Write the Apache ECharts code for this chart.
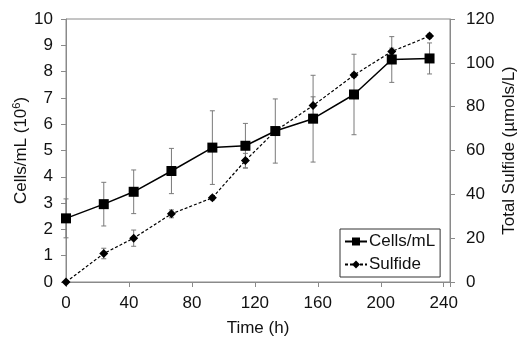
<!DOCTYPE html>
<html>
<head>
<meta charset="utf-8">
<script src="https://cdn.jsdelivr.net/npm/echarts@6/dist/echarts.min.js"></script>
<style>html,body{margin:0;padding:0;background:#fff;}#c{width:522px;height:339px;}</style>
</head>
<body>
<div id="c"></div>
<script>
const times = [0, 24, 43, 67, 93, 114, 133, 157, 183, 207, 231];
const cells = [2.42, 2.96, 3.43, 4.22, 5.11, 5.18, 5.74, 6.21, 7.13, 8.46, 8.5];
const cellsErr = [0.74, 0.83, 0.83, 0.86, 1.40, 0.85, 1.22, 1.65, 1.53, 0.87, 0.59];
const sulfide = [0, 13.0, 20.0, 31.1, 38.4, 55.4, 68.9, 80.5, 94.4, 105.2, 112.2];
const sulfideErr = [0, 2.4, 3.7, 1.8, 1.0, 3.3, 1.5, 4.0, 1.0, 1.5, 1.0];
const xTicks = [0, 40, 80, 120, 160, 200, 240];

const FONT = 'Liberation Sans, Arial, sans-serif';
const AXIS_COLOR = '#8a8a8a';

function errData(vals, errs) {
  return times.map((t, i) => [t, vals[i] - errs[i], vals[i] + errs[i]]);
}
function renderErr(params, api) {
  const x = api.value(0);
  const lo = api.coord([x, api.value(1)]);
  const hi = api.coord([x, api.value(2)]);
  const w = 2.5;
  const style = { stroke: '#7a7a7a', lineWidth: 1 };
  return {
    type: 'group',
    children: [
      { type: 'line', shape: { x1: lo[0], y1: lo[1], x2: hi[0], y2: hi[1] }, style },
      { type: 'line', shape: { x1: hi[0] - w, y1: hi[1], x2: hi[0] + w, y2: hi[1] }, style },
      { type: 'line', shape: { x1: lo[0] - w, y1: lo[1], x2: lo[0] + w, y2: lo[1] }, style }
    ]
  };
}

const chart = echarts.init(document.getElementById('c'), null, { renderer: 'canvas' });
const axisCommon = {
  axisLine: { show: true, lineStyle: { color: AXIS_COLOR, width: 1 } },
  axisTick: { show: true, length: 5, lineStyle: { color: AXIS_COLOR } },
  splitLine: { show: false },
  axisLabel: { color: '#111', fontSize: 17, fontFamily: FONT },
  nameTextStyle: { color: '#111', fontSize: 17, fontFamily: FONT }
};
chart.setOption({
  animation: false,
  backgroundColor: '#fff',
  textStyle: { fontFamily: FONT },
  grid: {
    left: 66, right: 72, top: 19, bottom: 57,
    containLabel: false, outerBoundsMode: 'none',
    show: true, borderColor: AXIS_COLOR, borderWidth: 1, backgroundColor: 'transparent'
  },
  xAxis: Object.assign({}, axisCommon, {
    type: 'value', min: 0, max: 244, interval: 40,
    name: 'Time (h)', nameLocation: 'middle', nameGap: 38,
    axisLabel: Object.assign({}, axisCommon.axisLabel, {
      margin: 13, showMaxLabel: true,
      formatter: v => (xTicks.indexOf(v) >= 0 ? String(v) : '')
    })
  }),
  yAxis: [
    Object.assign({}, axisCommon, {
      type: 'value', min: 0, max: 10, interval: 1, position: 'left',
      name: '{a|Cells/mL (10}{s|6}{a|)}', nameLocation: 'middle', nameGap: 36,
      nameMoveOverlap: false,
      nameTextStyle: Object.assign({}, axisCommon.nameTextStyle, {
        rich: {
          a: { fontSize: 17, fontFamily: FONT, color: '#111', verticalAlign: 'bottom' },
          s: { fontSize: 11, fontFamily: FONT, color: '#111', verticalAlign: 'top', padding: [0, 0, 8, 0] }
        }
      }),
      axisLabel: Object.assign({}, axisCommon.axisLabel, { margin: 13 })
    }),
    Object.assign({}, axisCommon, {
      type: 'value', min: 0, max: 120, interval: 20, position: 'right',
      name: 'Total Sulfide (\u00b5mols/L)', nameLocation: 'middle', nameGap: 51,
      nameRotate: 90, nameMoveOverlap: false,
      axisLabel: Object.assign({}, axisCommon.axisLabel, { margin: 16 })
    })
  ],
  legend: {
    left: 340, top: 229, orient: 'vertical',
    backgroundColor: '#fff', borderColor: '#333', borderWidth: 1,
    padding: [4, 5, 4, 4], itemGap: 6, itemWidth: 22, itemHeight: 10,
    textStyle: { fontSize: 17, fontFamily: FONT, color: '#111', padding: [0, 0, 0, -3] },
    data: ['Cells/mL', 'Sulfide']
  },
  series: [
    {
      type: 'custom', name: 'cellsErr', yAxisIndex: 0, z: 1,
      data: errData(cells, cellsErr), renderItem: renderErr,
      encode: { x: 0, y: [1, 2] }, silent: true
    },
    {
      type: 'custom', name: 'sulfideErr', yAxisIndex: 1, z: 1,
      data: errData(sulfide, sulfideErr), renderItem: renderErr,
      encode: { x: 0, y: [1, 2] }, silent: true
    },
    {
      type: 'line', name: 'Sulfide', yAxisIndex: 1, z: 3,
      data: times.map((t, i) => [t, sulfide[i]]),
      symbol: 'diamond', symbolSize: 9,
      itemStyle: { color: '#000' },
      lineStyle: { color: '#000', width: 1.2, type: [3, 2] }
    },
    {
      type: 'line', name: 'Cells/mL', yAxisIndex: 0, z: 4,
      data: times.map((t, i) => [t, cells[i]]),
      symbol: 'rect', symbolSize: 10,
      itemStyle: { color: '#000' },
      lineStyle: { color: '#000', width: 1.5 }
    }
  ]
});
</script>
</body>
</html>
